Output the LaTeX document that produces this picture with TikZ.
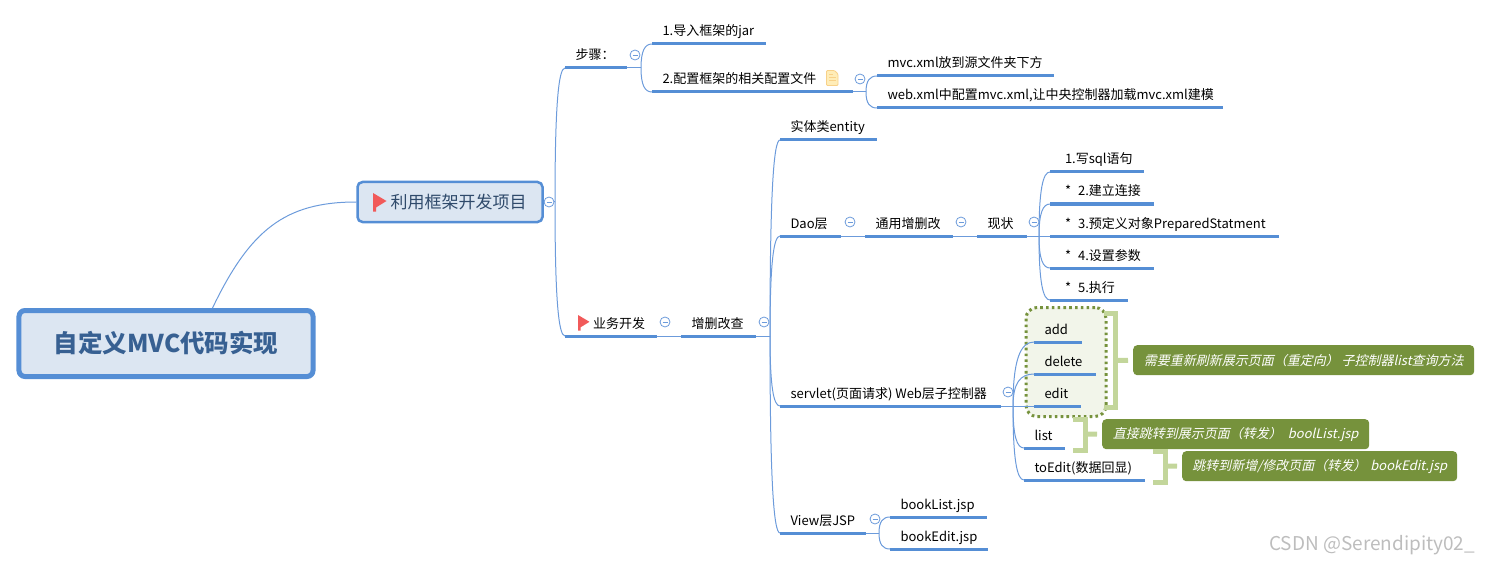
\documentclass[tikz,border=0pt]{standalone}
\usepackage{fontspec}
\setmainfont[ItalicFont={Noto Sans CJK SC},ItalicFeatures={FakeSlant=0.22}]{Noto Sans CJK SC}
\usetikzlibrary{calc}
\definecolor{thickblue}{HTML}{558ED5}
\definecolor{thinblue}{HTML}{6C9BDB}
\definecolor{paleblue}{HTML}{DCE6F2}
\definecolor{navytext}{HTML}{376092}
\definecolor{mainnavy}{HTML}{2F4A6B}
\definecolor{sumgreen}{HTML}{76923C}
\definecolor{brkgreen}{HTML}{C3D69B}
\definecolor{grpfill}{HTML}{F2F5EA}
\definecolor{flagred}{HTML}{F15A5A}
\definecolor{docfill}{HTML}{FFEDB8}
\definecolor{docline}{HTML}{F8D189}
\definecolor{wmgray}{HTML}{BDBDBD}
\tikzset{
  topicnode/.style={inner sep=0pt,outer sep=0pt,minimum height=24bp,anchor=south west,text=black,font=\fontsize{13bp}{15bp}\selectfont},
  underl/.style={draw=thickblue,line width=3bp},
  conn/.style={draw=thinblue,line width=1bp},
  collapsed/.style={circle,draw=thinblue,fill=white,line width=.8bp,minimum size=10bp,inner sep=0pt,
    path picture={\draw[thinblue,line width=.8bp] ([xshift=2.5bp]path picture bounding box.west) -- ([xshift=-2.5bp]path picture bounding box.east);}},
  sumbox/.style={fill=sumgreen,rounded corners=4bp,inner sep=0pt,text=white,font=\fontsize{13bp}{15bp}\selectfont\itshape,minimum height=30bp,anchor=north west},
  brk/.style={draw=brkgreen,line width=5bp,line join=miter},
  flagshape/.style={fill=flagred,draw=none},
}
\newcommand{\topicn}[6][10.5]{%
  \pgfmathsetlengthmacro{\topicw}{(#4-#3)*1bp}%
  \node[topicnode] (#2) at (#3,#5) {\hbox to \topicw{\hspace{#1bp}\rule[-6bp]{0pt}{20bp}#6\hss}};
  \draw[underl] (#2.south west) -- (#2.south east);
}
\newcommand{\branch}[2]{%
  \draw[conn] (#1) .. controls ($(#1)!.72!(#1|-#2.south west)$) and ($(#2.south west)!.65!(#1|-#2.south west)$) .. (#2.south west);
}
\newcommand{\flagat}[3]{% x, y, scale
  \fill[flagshape] (#1,#2) -- ++(#3*13.5,#3*8) -- ++(-#3*10.5,#3*6.5) -- ++(0,#3*4) -- ++(-#3*3,0) -- cycle;
}
\begin{document}
\begin{tikzpicture}[x=1bp,y=-1bp]
\useasboundingbox (0,0) rectangle (1490,566);
% group behind the three topics
\node[draw=sumgreen,fill=grpfill,line width=3bp,dash pattern=on 2.6bp off 3.2bp,rounded corners=11bp,inner sep=0pt,minimum width=80bp,minimum height=109bp,anchor=north west] (grp) at (1024.5,306) {};
% root and main topic
\node[draw=thickblue,fill=paleblue,line width=5bp,rounded corners=6bp,minimum width=294bp,minimum height=66bp,inner sep=0pt,text=navytext,font=\fontsize{24.5bp}{28bp}\selectfont\bfseries] (root) at (166,343.5) {自定义MVC代码实现};
\node[draw=thickblue,fill=paleblue,line width=2.5bp,rounded corners=5bp,minimum width=185bp,minimum height=40bp,inner sep=0pt,text=mainnavy,font=\fontsize{17bp}{20bp}\selectfont] (main) at (450,202) {\hspace*{17bp}利用框架开发项目};
% topics
\topicn{buzhou}{565}{627}{68}{步骤：}
\topicn{daoru}{652}{766}{44}{1.导入框架的jar}
\topicn{peizhi}{652}{853}{92}{2.配置框架的相关配置文件}
\topicn{mvcxml}{877}{1054}{76}{mvc.xml放到源文件夹下方}
\topicn{webxml}{877}{1223}{108}{web.xml中配置mvc.xml,让中央控制器加载mvc.xml建模}
\topicn[28]{yewu}{565}{657}{336}{业务开发}
\topicn{zscc}{681}{756}{336}{增删改查}
\topicn{entity}{780}{877}{140}{实体类entity}
\topicn{dao}{780}{841}{236}{Dao层}
\topicn{tongyong}{865}{953}{236}{通用增删改}
\topicn{xianzhuang}{977}{1027}{236}{现状}
\topicn[15]{sqla}{1050}{1144}{172}{1.写sql语句}
\topicn[15]{sqlb}{1050}{1154}{204}{*\hspace{7bp}2.建立连接}
\topicn[15]{sqlc}{1050}{1279}{236}{*\hspace{7bp}3.预定义对象PreparedStatment}
\topicn[15]{sqld}{1050}{1154}{268}{*\hspace{7bp}4.设置参数}
\topicn[15]{sqle}{1050}{1128}{300}{*\hspace{7bp}5.执行}
\topicn{servlet}{780}{1001}{406}{servlet(页面请求) Web层子控制器}
\topicn{add}{1034}{1082}{342}{add}
\topicn{delete}{1034}{1096}{374}{delete}
\topicn{edit}{1034}{1081}{406}{edit}
\topicn{listt}{1024}{1065}{448}{list}
\topicn{toedit}{1024}{1145}{480}{toEdit(数据回显)}
\topicn{view}{780}{866}{533}{View层JSP}
\topicn{blist}{890}{987}{517}{bookList.jsp}
\topicn{bedit}{890}{988}{549}{bookEdit.jsp}
% spine points
\coordinate (s0) at (555,202);
\coordinate (s1) at (641,68);
\coordinate (s2) at (866,92);
\coordinate (s3) at (770,336);
\coordinate (s4) at (1039,236);
\coordinate (s5) at (1013,406);
\coordinate (s6) at (879,533);
% connectors
\draw[conn] (root.north west) ++(196,0) .. controls (250,230) and (285,202) .. (main.west);
\draw[conn] (main.east) -- (s0);
\branch{s0}{buzhou}\branch{s0}{yewu}
\draw[conn] (buzhou.south east) -- (s1);
\branch{s1}{daoru}\branch{s1}{peizhi}
\draw[conn] (peizhi.south east) -- (s2);
\branch{s2}{mvcxml}\branch{s2}{webxml}
\draw[conn] (yewu.south east) -- (zscc.south west);
\draw[conn] (zscc.south east) -- (s3);
\branch{s3}{entity}\branch{s3}{dao}\branch{s3}{servlet}\branch{s3}{view}
\draw[conn] (dao.south east) -- (tongyong.south west);
\draw[conn] (tongyong.south east) -- (xianzhuang.south west);
\draw[conn] (xianzhuang.south east) -- (s4);
\branch{s4}{sqla}\branch{s4}{sqlb}\draw[conn] (s4) -- (sqlc.south west);\branch{s4}{sqld}\branch{s4}{sqle}
\draw[conn] (servlet.south east) -- (s5);
\branch{s5}{add}\branch{s5}{delete}\draw[conn] (s5) -- (edit.south west);\branch{s5}{listt}\branch{s5}{toedit}
\draw[conn] (view.south east) -- (s6);
\branch{s6}{blist}\branch{s6}{bedit}
% collapse marks
\node[collapsed] (cm) at (549,202) {};
\node[collapsed] (c1) at (635,55) {};
\node[collapsed] (c2) at (860,79) {};
\node[collapsed] (c3) at (665,322) {};
\node[collapsed] (c4) at (764,322) {};
\node[collapsed] (c5) at (850,222) {};
\node[collapsed] (c6) at (961,222) {};
\node[collapsed] (c7) at (1034,222) {};
\node[collapsed] (c8) at (1008,392) {};
\node[collapsed] (c9) at (875,519) {};
% flags
\flagat{373}{193}{1}
\flagat{578}{315}{.85}
% document icon
\draw[fill=docfill,draw=docline,line width=.8bp,rounded corners=1bp] (826.5,70.5) -- (834.5,70.5) -- (838,74) -- (838,85.5) -- (826.5,85.5) -- cycle;
\draw[docline,line width=1bp] (829,75) -- (833,75) (829,78) -- (836,78) (829,81) -- (836,81);
% summaries
\node[sumbox,minimum width=341bp] (sum1) at (1133,345) {需要重新刷新展示页面（重定向） 子控制器list查询方法};
\node[sumbox,minimum width=267bp] (sum2) at (1102,419) {直接跳转到展示页面（转发）\hspace{6bp}boolList.jsp};
\node[sumbox,minimum width=275bp] (sum3) at (1182,451) {跳转到新增/修改页面（转发）\hspace{4bp}bookEdit.jsp};
% brackets
\draw[brk] (1104,313.5) -- (1115.5,313.5) -- (1115.5,407.5) -- (1104,407.5);
\draw[brk,shorten >=5bp] (1115.5,360.5) -- (sum1.west);
\draw[brk] (1073,419.5) -- (1085.5,419.5) -- (1085.5,450) -- (1073,450);
\draw[brk,shorten >=5bp] (1085.5,434) -- (sum2.west);
\draw[brk] (1153,451.5) -- (1165.5,451.5) -- (1165.5,482) -- (1153,482);
\draw[brk,shorten >=5bp] (1165.5,466) -- (sum3.west);
% watermark
\node[anchor=west,inner sep=0pt,text=wmgray,font=\fontsize{19bp}{24bp}\selectfont] (wm) at (1269,545) {CSDN @Serendipity02\_};
\end{tikzpicture}
\end{document}
